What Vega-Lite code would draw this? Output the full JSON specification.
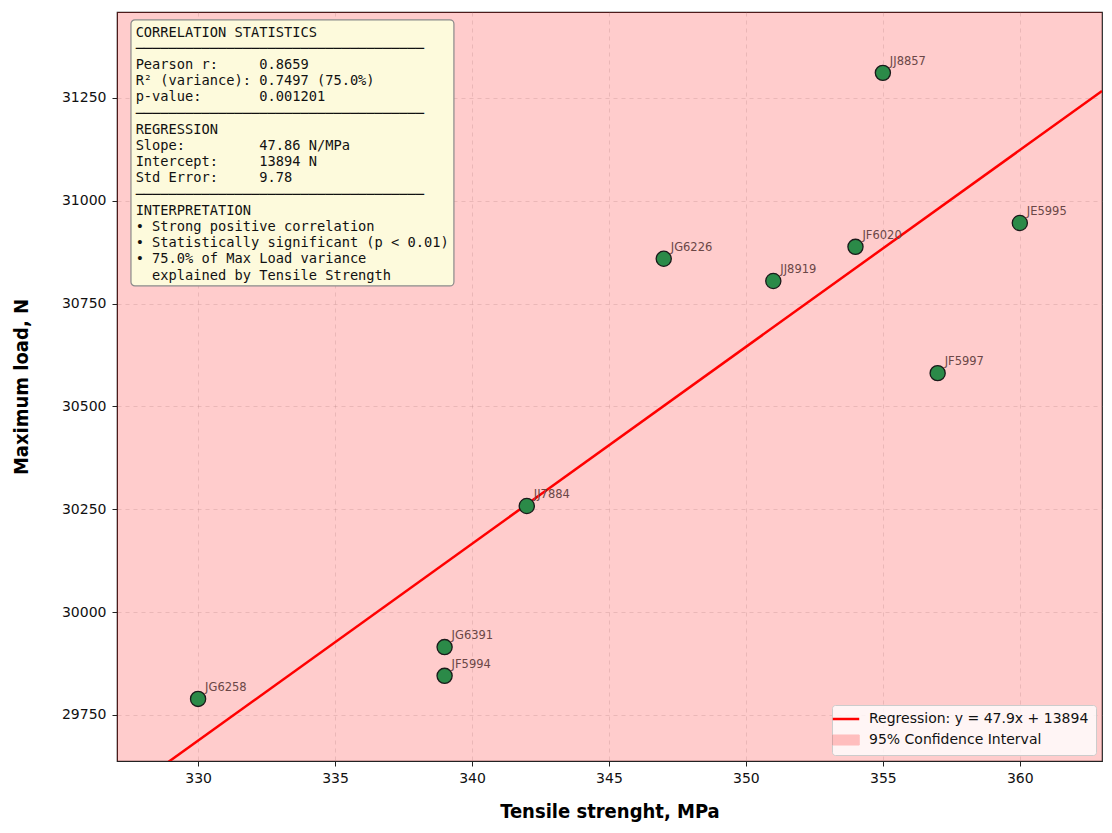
{
  "$schema": "https://vega.github.io/schema/vega-lite/v6.json",
  "description": "Scatter of max load vs tensile strength with regression line and confidence band.",
  "width": 985,
  "height": 749,
  "autosize": "none",
  "padding": {"left": 117, "top": 12, "right": 10, "bottom": 72},
  "datasets": {
    "points": [
      {"sample": "JG6258", "tensile": 330, "load": 29789},
      {"sample": "JG6391", "tensile": 339, "load": 29915},
      {"sample": "JF5994", "tensile": 339, "load": 29845},
      {"sample": "JJ7884", "tensile": 342, "load": 30258},
      {"sample": "JG6226", "tensile": 347, "load": 30859},
      {"sample": "JJ8919", "tensile": 351, "load": 30805},
      {"sample": "JF6020", "tensile": 354, "load": 30888},
      {"sample": "JJ8857", "tensile": 355, "load": 31311},
      {"sample": "JF5997", "tensile": 357, "load": 30581},
      {"sample": "JE5995", "tensile": 360, "load": 30946}
    ],
    "fit": [
      {"series": "Regression: y = 47.9x + 13894", "tensile": 327, "load": 29544},
      {"series": "Regression: y = 47.9x + 13894", "tensile": 363, "load": 31267}
    ],
    "band": [
      {"series": "95% Confidence Interval", "tensile": 327, "lo": 29000, "hi": 32000},
      {"series": "95% Confidence Interval", "tensile": 363, "lo": 29000, "hi": 32000}
    ],
    "stats": [
      {"text": "CORRELATION STATISTICS\n───────────────────────────────────\nPearson r:\u00a0\u00a0\u00a0\u00a0\u00a00.8659\nR² (variance): 0.7497 (75.0%)\np-value:\u00a0\u00a0\u00a0\u00a0\u00a0\u00a0\u00a00.001201\n───────────────────────────────────\nREGRESSION\nSlope:\u00a0\u00a0\u00a0\u00a0\u00a0\u00a0\u00a0\u00a0\u00a047.86 N/MPa\nIntercept:\u00a0\u00a0\u00a0\u00a0\u00a013894 N\nStd Error:\u00a0\u00a0\u00a0\u00a0\u00a09.78\n───────────────────────────────────\nINTERPRETATION\n• Strong positive correlation\n• Statistically significant (p < 0.01)\n• 75.0% of Max Load variance\n\u200b\u00a0\u00a0explained by Tensile Strength"}
    ]
  },
  "encoding": {
    "x": {
      "type": "quantitative",
      "scale": {"domain": [327.04, 363.0], "nice": false, "zero": false},
      "axis": {
        "title": "Tensile strenght, MPa",
        "format": "d",
        "values": [330, 335, 340, 345, 350, 355, 360]
      }
    },
    "y": {
      "type": "quantitative",
      "scale": {"domain": [29638, 31459], "nice": false, "zero": false},
      "axis": {
        "title": "Maximum load, N",
        "format": "d",
        "values": [29750, 30000, 30250, 30500, 30750, 31000, 31250]
      }
    }
  },
  "layer": [
    {
      "data": {"name": "band"},
      "mark": {"type": "area", "opacity": 0.2, "clip": true},
      "encoding": {
        "x": {"field": "tensile", "type": "quantitative"},
        "y": {"field": "lo", "type": "quantitative"},
        "y2": {"field": "hi"},
        "color": {"field": "series", "type": "nominal"}
      }
    },
    {
      "data": {"name": "fit"},
      "mark": {"type": "line", "strokeWidth": 2.5, "clip": true},
      "encoding": {
        "x": {"field": "tensile", "type": "quantitative"},
        "y": {"field": "load", "type": "quantitative"},
        "color": {
          "field": "series",
          "type": "nominal",
          "scale": {
            "domain": ["Regression: y = 47.9x + 13894", "95% Confidence Interval"],
            "range": ["#ff0000", "#ff0000"]
          },
          "legend": {
            "title": null,
            "orient": "bottom-right",
            "offset": 6,
            "padding": 7,
            "rowPadding": 6,
            "fillColor": "rgba(255,255,255,0.8)",
            "strokeColor": "#cccccc",
            "cornerRadius": 3,
            "labelFont": "DejaVu Sans",
            "labelFontSize": 14,
            "labelColor": "#111111",
            "labelLimit": 400,
            "symbolSize": 700,
            "labelOffset": 16,
            "encode": {
              "symbols": {
                "update": {
                  "shape": {"signal": "datum.value === '95% Confidence Interval' ? 'M-1,-0.38H1V0.38H-1Z' : 'M-1,0H1'"},
                  "strokeWidth": {"signal": "datum.value === '95% Confidence Interval' ? 1 : 2.5"},
                  "opacity": {"signal": "datum.value === '95% Confidence Interval' ? 0.22 : 1"}
                }
              }
            }
          }
        }
      }
    },
    {
      "data": {"name": "points"},
      "mark": {"type": "circle", "size": 230, "fill": "#2b8a48", "stroke": "#1a1a1a", "strokeWidth": 1.3, "opacity": 1},
      "encoding": {
        "x": {"field": "tensile", "type": "quantitative"},
        "y": {"field": "load", "type": "quantitative"}
      }
    },
    {
      "data": {"name": "points"},
      "mark": {"type": "text", "align": "left", "baseline": "alphabetic", "dx": 7, "dy": -8, "font": "DejaVu Sans", "fontSize": 11.5, "color": "#6b4747"},
      "encoding": {
        "x": {"field": "tensile", "type": "quantitative"},
        "y": {"field": "load", "type": "quantitative"},
        "text": {"field": "sample"}
      }
    },
    {
      "data": {"name": "stats"},
      "mark": {"type": "rect", "fill": "#fdfadc", "stroke": "#8a8a8a", "strokeWidth": 1.2, "cornerRadius": 4},
      "encoding": {
        "x": {"datum": 327.55},
        "x2": {"datum": 339.34},
        "y": {"datum": 31440},
        "y2": {"datum": 30793}
      }
    },
    {
      "data": {"name": "stats"},
      "mark": {"type": "text", "align": "left", "baseline": "top", "lineBreak": "\n", "lineHeight": 16.2, "font": "DejaVu Sans Mono", "fontSize": 13.7, "color": "#111111"},
      "encoding": {
        "x": {"datum": 327.72},
        "y": {"datum": 31426},
        "text": {"field": "text"}
      }
    }
  ],
  "config": {
    "view": {"stroke": "#222222", "strokeWidth": 1.2, "fill": "white"},
    "axis": {
      "labelFont": "DejaVu Sans",
      "labelFontSize": 14,
      "labelColor": "#111111",
      "tickColor": "#222222",
      "tickSize": 5,
      "domainColor": "#222222",
      "grid": true,
      "gridColor": "#999999",
      "gridOpacity": 0.25,
      "gridDash": [4, 4],
      "titleFont": "DejaVu Sans Condensed",
      "titleFontSize": 20,
      "titleFontWeight": "bold",
      "titleColor": "#000000"
    },
    "axisX": {"titlePadding": 16, "labelPadding": 5},
    "axisY": {"titlePadding": 30, "labelPadding": 6}
  }
}
